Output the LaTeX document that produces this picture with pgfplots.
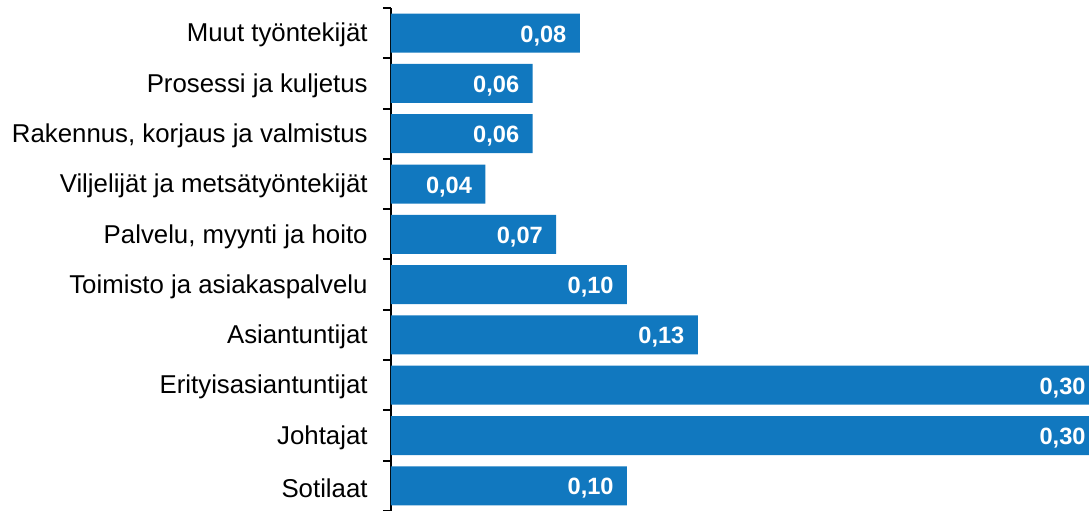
\documentclass[border=0pt]{standalone}
\usepackage{pgfplots}
\usepackage{pgfplotstable}
\pgfplotsset{compat=1.18}
\usepackage{fontspec}
\setmainfont{Liberation Sans}
\definecolor{barblue}{RGB}{17,120,191}
\pgfplotstableread{
y x label
0 0.10 0,10
1 0.30 0,30
2 0.30 0,30
3 0.13 0,13
4 0.10 0,10
5 0.07 0,07
6 0.04 0,04
7 0.06 0,06
8 0.06 0,06
9 0.08 0,08
}\datatable
\begin{document}
\begin{tikzpicture}
\begin{axis}[
  name=ax,
  scale only axis,
  width=349pt, height=251.5pt,
  xmin=0, xmax=0.2958,
  ymin=-0.5, ymax=9.5,
  enlargelimits=false,
  clip=false,
  axis x line=none,
  axis y line=left,
  axis line style={-, line width=1pt, black},
  ytick={0,...,9},
  yticklabels={Sotilaat,Johtajat,Erityisasiantuntijat,Asiantuntijat,Toimisto ja asiakaspalvelu,{Palvelu, myynti ja hoito},Viljelijät ja metsätyöntekijät,{Rakennus, korjaus ja valmistus},Prosessi ja kuljetus,Muut työntekijät},
  major tick length=0pt,
  minor ytick={-0.5,0.5,...,9.5},
  minor tick length=4pt,
  tick align=outside,
  minor tick style={line width=1pt, black},
  yticklabel style={font=\fontsize{12.9pt}{14pt}\selectfont, inner sep=0pt, xshift=-11.5pt, yshift=-1pt},
  xbar, bar width=19.5pt,
  point meta=explicit symbolic,
  nodes near coords,
  nodes near coords style={anchor=east, inner sep=0pt, xshift=-6.5pt, yshift=-1.3pt, text=white, font=\bfseries\fontsize{11.8pt}{13pt}\selectfont},
]
\begin{scope}
\clip (axis cs:0,-0.5) rectangle (axis cs:0.2958,9.5);
\addplot[fill=barblue, draw=none] table[x=x, y=y, meta=label] {\datatable};
\end{scope}
\end{axis}
\pgfresetboundingbox
\path ([xshift=-195.5pt]ax.south west) rectangle ([yshift=4pt]ax.north east);
\end{tikzpicture}
\end{document}
